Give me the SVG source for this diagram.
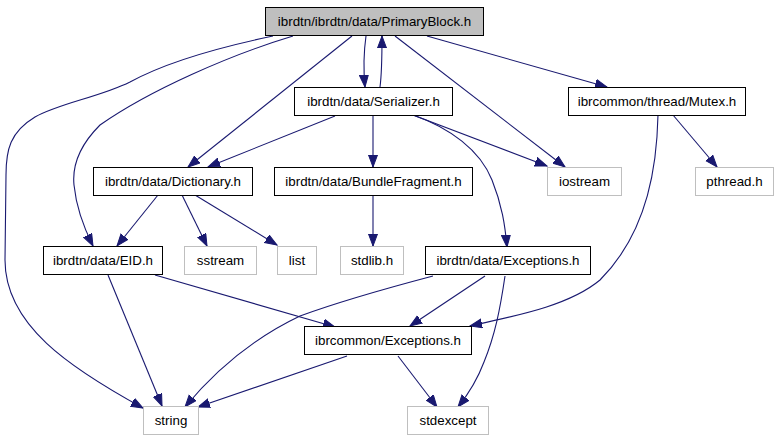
<svg xmlns="http://www.w3.org/2000/svg" width="779" height="443" viewBox="0 0 779 443">
<style>
  .n rect { fill: #ffffff; stroke: #000000; stroke-width: 1; }
  .n.sys rect { stroke: #bfbfbf; }
  .n.cur rect { fill: #bfbfbf; }
  .n text { font-family: "Liberation Sans", Arial, Helvetica, sans-serif; font-size: 13.33px; fill: #000000; text-anchor: middle; }
  .e path { fill: none; stroke: #191970; stroke-width: 1.1; marker-end: url(#ah); }
</style>
<defs>
  <marker id="ah" markerUnits="userSpaceOnUse" markerWidth="13" markerHeight="11" refX="12" refY="5" orient="auto">
    <path d="M0,0.5 L12,5 L0,9.5 z" fill="#191970" stroke="#191970" stroke-width="1"/>
  </marker>
</defs>
<rect width="779" height="443" fill="#ffffff"/>
<g id="edges" class="e">
  <path d="M273,36 C230,45 170,60 130,82 C100,97 60,103 35,117 C10,132 6,150 6,175 L5,260 C5,325 70,368 143,408"/>
  <path d="M293,36 C230,55 150,90 100,125 C80,145 72,165 74,185 C76,205 84,228 93,246"/>
  <path d="M352,36 L188,167"/>
  <path d="M366,36 C364,50 363,65 365,87"/>
  <path d="M380,87 C382,72 382,58 382,36"/>
  <path d="M395,36 L565,167"/>
  <path d="M427,36 L607,87"/>
  <path d="M335,116 L208,167"/>
  <path d="M373,116 L373,167"/>
  <path d="M413,115 L547,166"/>
  <path d="M413,115 C450,128 480,150 492,180 C502,205 505,225 507,247"/>
  <path d="M673,115 L717,167"/>
  <path d="M658,115 C657,160 650,230 600,280 C570,305 520,315 470,326"/>
  <path d="M158,195 L117,246"/>
  <path d="M182,195 L207,246"/>
  <path d="M195,195 L277,245"/>
  <path d="M373,196 L373,246"/>
  <path d="M108,275 L162,406"/>
  <path d="M155,275 L335,327"/>
  <path d="M433,276 C380,290 330,305 300,316 C260,335 220,365 185,407"/>
  <path d="M485,276 L410,326"/>
  <path d="M505,276 C500,310 495,335 484,362 C478,378 470,392 458,407"/>
  <path d="M347,356 L198,407"/>
  <path d="M398,356 L437,407"/>
</g>
<g id="node-primaryblock" class="n cur"><rect x="265.5" y="7.5" width="218" height="28"/><text x="374.5" y="26">ibrdtn/ibrdtn/data/PrimaryBlock.h</text></g>
<g id="node-serializer" class="n"><rect x="294.5" y="87.5" width="158" height="28"/><text x="373.5" y="106">ibrdtn/data/Serializer.h</text></g>
<g id="node-mutex" class="n"><rect x="568.5" y="87.5" width="177" height="28"/><text x="657" y="106">ibrcommon/thread/Mutex.h</text></g>
<g id="node-dictionary" class="n"><rect x="93.5" y="167.5" width="159" height="28"/><text x="173" y="186">ibrdtn/data/Dictionary.h</text></g>
<g id="node-bundlefragment" class="n"><rect x="274.5" y="167.5" width="198" height="28"/><text x="373.5" y="186">ibrdtn/data/BundleFragment.h</text></g>
<g id="node-iostream" class="n sys"><rect x="547.5" y="167.5" width="74" height="28"/><text x="584.5" y="186">iostream</text></g>
<g id="node-pthread" class="n sys"><rect x="695.5" y="167.5" width="78" height="28"/><text x="734.5" y="186">pthread.h</text></g>
<g id="node-eid" class="n"><rect x="43.5" y="246.5" width="119" height="28"/><text x="103" y="265">ibrdtn/data/EID.h</text></g>
<g id="node-sstream" class="n sys"><rect x="184.5" y="246.5" width="72" height="28"/><text x="220.5" y="265">sstream</text></g>
<g id="node-list" class="n sys"><rect x="277.5" y="246.5" width="39" height="28"/><text x="297" y="265">list</text></g>
<g id="node-stdlib" class="n sys"><rect x="340.5" y="246.5" width="63" height="28"/><text x="372" y="265">stdlib.h</text></g>
<g id="node-dataexceptions" class="n"><rect x="425.5" y="246.5" width="165" height="28"/><text x="508" y="265">ibrdtn/data/Exceptions.h</text></g>
<g id="node-commonexceptions" class="n"><rect x="304.5" y="326.5" width="167" height="28"/><text x="388" y="345">ibrcommon/Exceptions.h</text></g>
<g id="node-string" class="n sys"><rect x="143.5" y="406.5" width="55" height="28"/><text x="171" y="425">string</text></g>
<g id="node-stdexcept" class="n sys"><rect x="407.5" y="406.5" width="81" height="28"/><text x="448" y="425">stdexcept</text></g>
</svg>
